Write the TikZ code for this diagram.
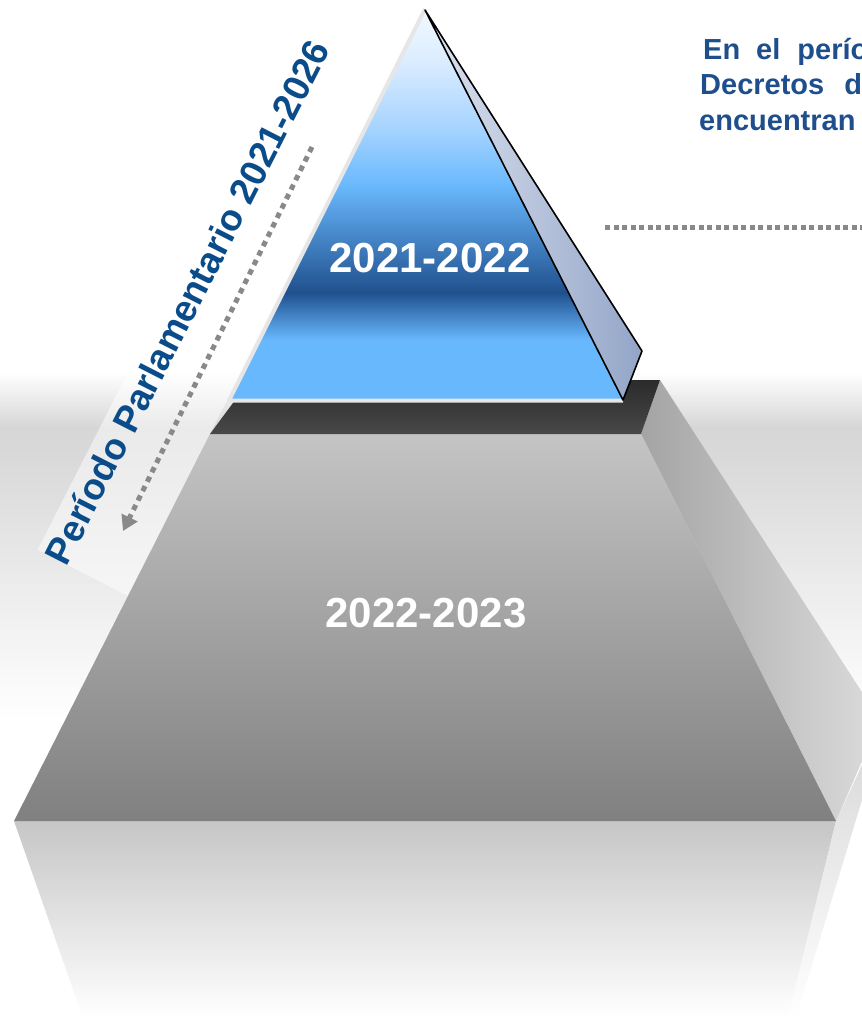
\documentclass[tikz,border=0pt]{standalone}
\usepackage{fontspec}
\setmainfont{Liberation Sans}
\usetikzlibrary{arrows.meta}
\definecolor{descblue}{HTML}{1F4E8C}
\definecolor{perblue}{HTML}{0A4C8A}
\definecolor{dotgray}{HTML}{8A8888}
\definecolor{bgA}{HTML}{D6D6D6}
\definecolor{bgB}{HTML}{DCDCDC}
\definecolor{bgC}{HTML}{E8E8E8}
\definecolor{frontTop}{HTML}{C4C4C4}
\definecolor{frontBot}{HTML}{808080}
\definecolor{sideL}{HTML}{A4A4A4}
\definecolor{sideR}{HTML}{DCDCDC}
\definecolor{slabTop}{HTML}{2B2B2B}
\definecolor{slabBot}{HTML}{484848}
\definecolor{reflTop}{HTML}{C6C6C6}
\definecolor{triEdge}{HTML}{E6E6E6}
\definecolor{tA}{HTML}{F2F8FF}
\definecolor{tB}{HTML}{DCEDFF}
\definecolor{tC}{HTML}{A5D3FF}
\definecolor{tD}{HTML}{6AB9FD}
\definecolor{tE}{HTML}{20508E}
\definecolor{tF}{HTML}{68B8FD}
\definecolor{faceL}{HTML}{DDE3EF}
\definecolor{faceR}{HTML}{93A5C8}
\begin{document}
\begin{tikzpicture}[x=1pt,y=-1pt,
  yeartext/.style={text=white, font=\fontsize{42}{50}\selectfont\bfseries, inner sep=0pt},
  desc/.style={text=descblue, font=\fontsize{29}{35}\selectfont\bfseries, inner sep=0pt, anchor=base west},
  pertext/.style={text=perblue, font=\fontsize{37}{44}\selectfont\bfseries, inner sep=0pt},
  dotline/.style={draw=dotgray, line width=5pt, dash pattern=on 5pt off 3.5pt}
]
\useasboundingbox (0,0) rectangle (862,1018);
% background band
\shade[top color=white, bottom color=bgA] (0,372) rectangle (862,428);
\shade[top color=bgA, bottom color=bgB] (0,427.5) rectangle (862,480);
\shade[top color=bgB, bottom color=bgC] (0,479.5) rectangle (862,560);
\shade[top color=bgC, bottom color=white] (0,559.5) rectangle (862,720);
% white band behind the rotated label
\fill[white, opacity=0.5] (37.7,549.6) -- (144.4,340) -- (257.5,340) -- (128,596) -- cycle;
% reflection
\shade[top color=reflTop, bottom color=white] (14,821) -- (836,821) -- (788,1018) -- (83,1018) -- cycle;
\shade[top color=bgB, bottom color=white] (836,821) -- (862,765) -- (862,800) -- (796,1018) -- (788,1018) -- cycle;
% right side face
\shade[left color=sideL, right color=sideR] (641,434) -- (660,380) -- (880,720) -- (836,821) -- cycle;
% front face
\shade[top color=frontTop, bottom color=frontBot] (210,434) -- (641,434) -- (836,821) -- (14,821) -- cycle;
% dark slab (top face)
\shade[top color=slabTop, bottom color=slabBot] (210,434) -- (641,434) -- (660,380) -- (250,380) -- cycle;
% top triangle
\begin{scope}
\clip (425,10) -- (623,400) -- (230,399) -- cycle;
\shade[top color=tA, bottom color=tB] (220,8) rectangle (640,60);
\shade[top color=tB, bottom color=tC] (220,59.5) rectangle (640,130);
\shade[top color=tC, bottom color=tD] (220,129.5) rectangle (640,185);
\shade[top color=tD, bottom color=tE] (220,184.5) rectangle (640,293);
\shade[top color=tE, bottom color=tF] (220,292.5) rectangle (640,340);
\fill[tF] (220,339.5) rectangle (640,402);
\end{scope}
\draw[triEdge, line width=4pt, line join=round] (623,400.5) -- (229,400.5) -- (425,9);
% side face of the triangle
\shade[left color=faceL, right color=faceR] (425,10) -- (642,351) -- (623,400) -- cycle;
\draw[black, line width=1.6pt, line join=round] (425,10) -- (642,351) -- (623,400) -- cycle;
% labels
\node[yeartext, anchor=base] (y1) at (430,272) {2021-2022};
\node[yeartext, anchor=base] (y2) at (426,627) {2022-2023};
\node[pertext, anchor=base, rotate=63] (per) at (199,308) {Período Parlamentario 2021-2026};
\node[desc] (l1) at (703,59) {En\hspace{16pt}el\hspace{17pt}período};
\node[desc] (l2) at (700,94) {Decretos\hspace{20pt}de};
\node[desc] (l3) at (699,130) {encuentran};
% dotted connectors
\coordinate (hs) at (605,227);
\coordinate (he) at (870,227);
\draw[dotline] (hs) -- (he);
\coordinate (ds) at (312,147);
\coordinate (de) at (123,531);
\draw[dotline, dash pattern=on 5.5pt off 5pt, -{Triangle[width=17pt,length=15pt]}] (ds) -- (de);
\end{tikzpicture}
\end{document}
